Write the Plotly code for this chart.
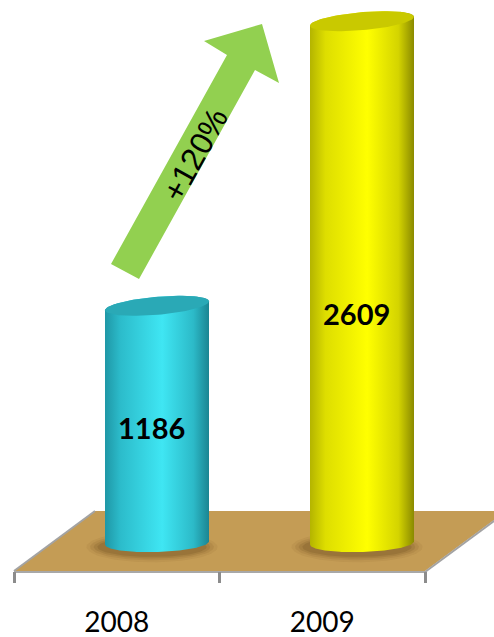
import numpy as np
import plotly.graph_objects as go

# ---- data -------------------------------------------------------------
YEARS = ["2008", "2009"]
COUNTS = [1186, 2609]
GROWTH_LABEL = "+120%"

# ---- drawing frame ----------------------------------------------------
W, H = 494, 637
X_ORIGIN, X_STEP = 157, 205      # pixel column of first cylinder axis, spacing
Y_BASE, Y_SCALE = 543, 0.2       # pixel row of value 0, pixels per unit
FRONT_L, FRONT_R, FRONT_Y = 14, 425, 571   # front edge of the floor


def dx(p):
    return (p - X_ORIGIN) / X_STEP


def dy(p):
    return (Y_BASE - p) / Y_SCALE


# cylinder look
HALF_W = 52 / X_STEP             # radius in category units
ELL_B = 9 / Y_SCALE              # ellipse half height in value units
TOP_TILT = 0.085                 # top cap leans up to the right
BOT_TILT = 0.03
BODY_SCALES = [
    [[0.0, "#1f97a6"], [0.15, "#2cbccb"], [0.55, "#3fe6f3"], [0.85, "#2cbac8"], [1.0, "#1b8592"]],
    [[0.0, "#b4b400"], [0.15, "#dede00"], [0.55, "#ffff00"], [0.85, "#d4d400"], [1.0, "#8a8a00"]],
]
TOP_COLORS = ["#2aa9b6", "#c9c900"]
LABEL_FRAC = [0.485, 0.44]


def ellipse(cx, cy, tilt, t0, t1, n=90):
    t = np.linspace(t0, t1, n)
    x = cx + HALF_W * np.cos(t)
    y = cy - ELL_B * np.sin(t) + tilt * (x - cx) * X_STEP / Y_SCALE
    return x, y


def seg(a, b, color, width):
    return go.Scatter(
        x=[dx(a[0]), dx(b[0])], y=[dy(a[1]), dy(b[1])], mode="lines",
        line=dict(color=color, width=width), hoverinfo="skip", showlegend=False)


fig = go.Figure()

# floor of the 3-D plot area
floor_px = [(FRONT_L, FRONT_Y), (95, 511), (506, 511), (FRONT_R, FRONT_Y)]
fig.add_trace(go.Scatter(
    x=[dx(p[0]) for p in floor_px] + [dx(floor_px[0][0])],
    y=[dy(p[1]) for p in floor_px] + [dy(floor_px[0][1])],
    mode="lines", fill="toself", fillcolor="#c49c55",
    line=dict(width=0), hoverinfo="skip", showlegend=False))
fig.add_trace(seg((FRONT_L, FRONT_Y), (95, 511), "#a3a3a3", 2))
fig.add_trace(seg((FRONT_R, FRONT_Y + 1), (506, 512), "#a3a3a3", 2))
fig.add_trace(seg((FRONT_L, FRONT_Y + 1), (FRONT_R, FRONT_Y + 1), "#a8a8a8", 2))

# cylinders
for i, v in enumerate(COUNTS):
    cx = i
    # soft shadow around the base
    for sa, sb, al in [(1.26, 1.7, 0.07), (1.19, 1.48, 0.10), (1.12, 1.28, 0.14), (1.05, 1.1, 0.18)]:
        t = np.linspace(0, 2 * np.pi, 90)
        sx = cx - 5 / X_STEP + HALF_W * sa * np.cos(t)
        sy = dy(Y_BASE + 4) - ELL_B * sb * np.sin(t)
        fig.add_trace(go.Scatter(
            x=sx, y=sy, mode="lines", fill="toself",
            fillcolor=f"rgba(95,62,20,{al})", line=dict(width=0),
            hoverinfo="skip", showlegend=False))

    # body: front of base, right side, back of top cap, left side
    bx, by = ellipse(cx, 0, BOT_TILT, np.pi, 0)
    tx, ty = ellipse(cx, v, TOP_TILT, 0, -np.pi)
    xs = np.concatenate([bx, tx, bx[:1]])
    ys = np.concatenate([by, ty, by[:1]])
    fig.add_trace(go.Scatter(
        x=xs, y=ys, mode="lines", fill="toself",
        fillgradient=dict(type="horizontal", colorscale=BODY_SCALES[i]),
        line=dict(width=0), hoverinfo="skip", showlegend=False))

    # top cap
    cxs, cys = ellipse(cx, v, TOP_TILT, 0, 2 * np.pi)
    fig.add_trace(go.Scatter(
        x=cxs, y=cys, mode="lines", fill="toself", fillcolor=TOP_COLORS[i],
        line=dict(width=0), hoverinfo="skip", showlegend=False))

    fig.add_annotation(
        x=cx - 0.025, y=v * LABEL_FRAC[i], text=f"<b>{v}</b>", showarrow=False,
        font=dict(family="Lato", size=29, color="black"))

# growth arrow
arrow_px = [(111, 264), (139, 279), (255, 70), (279, 83), (262, 24), (204, 41), (227, 55), (111, 264)]
fig.add_trace(go.Scatter(
    x=[dx(p[0]) for p in arrow_px], y=[dy(p[1]) for p in arrow_px],
    mode="lines", fill="toself", fillcolor="#92d050", line=dict(width=0),
    hoverinfo="skip", showlegend=False))
fig.add_annotation(
    x=dx(195), y=dy(155), text=GROWTH_LABEL, textangle=-61, showarrow=False,
    font=dict(family="Liberation Sans", size=32, color="black"))

# category axis along the front edge of the floor
fig.add_trace(go.Scatter(
    x=YEARS, y=[0, 0], xaxis="x2", mode="markers", marker=dict(opacity=0),
    hoverinfo="skip", showlegend=False))

step2 = (FRONT_R - FRONT_L) / 2
fig.update_layout(
    width=W, height=H, margin=dict(l=0, r=0, t=0, b=0),
    paper_bgcolor="white", plot_bgcolor="white",
    xaxis=dict(range=[dx(0), dx(W)], visible=False, fixedrange=True),
    yaxis=dict(range=[dy(H), dy(0)], visible=False, fixedrange=True),
    xaxis2=dict(
        type="category", overlaying="x", anchor="free",
        position=(H - FRONT_Y) / H,
        range=[-0.5 - FRONT_L / step2, 1.5 + (W - FRONT_R) / step2],
        tickson="boundaries", ticks="outside", ticklen=11, tickwidth=3,
        tickcolor="#8c8c8c", showline=False,
        showgrid=False, zeroline=False, ticklabelstandoff=32,
        tickfont=dict(family="Lato", size=28, color="black"), fixedrange=True),
    showlegend=False,
)

fig.write_html("out.html")
